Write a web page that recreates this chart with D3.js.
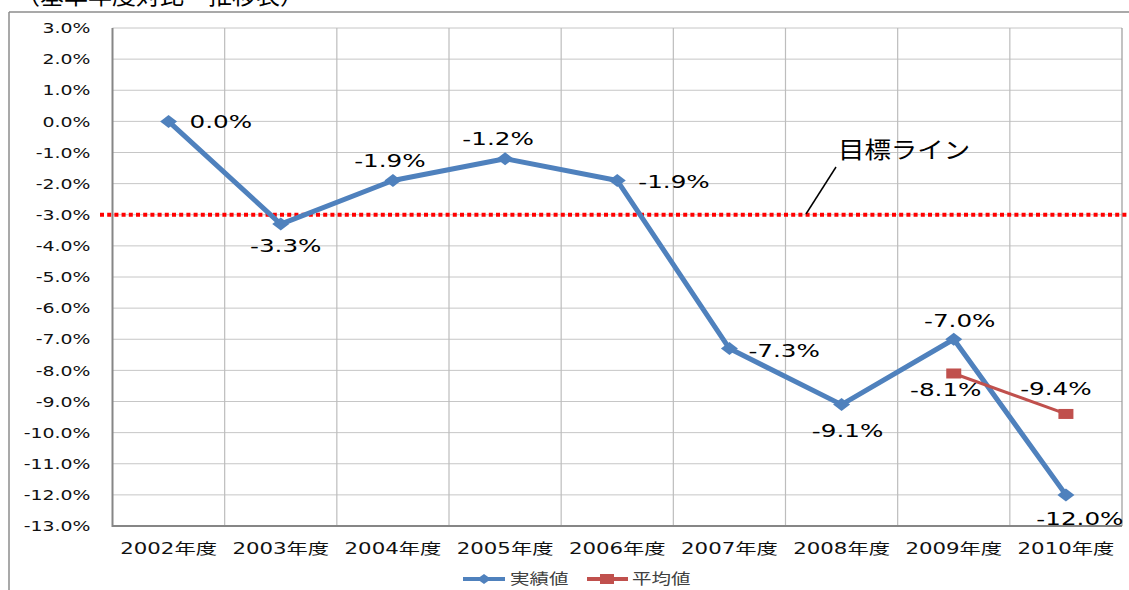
<!DOCTYPE html>
<html>
<head>
<meta charset="utf-8">
<script src="https://cdn.jsdelivr.net/npm/d3@7"></script>
<style>
  body { margin: 0; background: #fff; }
  svg { display: block; }
</style>
</head>
<body>
<svg width="1129" height="590"></svg>
<script>
// data
var years = ['2002年度', '2003年度', '2004年度', '2005年度', '2006年度', '2007年度', '2008年度', '2009年度', '2010年度'];
var actual = [0.0, -3.3, -1.9, -1.2, -1.9, -7.3, -9.1, -7.0, -12.0];
var avgYears = ['2009年度', '2010年度'];
var average = [-8.1, -9.4];
var target = -3.0;
var yTicks = [3, 2, 1, 0, -1, -2, -3, -4, -5, -6, -7, -8, -9, -10, -11, -12, -13];

var font = '"DejaVu Sans", "Noto Sans CJK JP", sans-serif';
var svg = d3.select('svg');

var x = d3.scaleBand().domain(years).range([112.5, 1122]).paddingInner(0).paddingOuter(0);
var y = d3.scaleLinear().domain([-13, 3]).range([526, 28]);
var cx = function (d) { return x(d) + x.bandwidth() / 2; };

// stretched text helper (the original chart text is drawn wide)
function label(g, px, py, txt, size, sx, anchor, color, fam) {
  return g.append('text')
    .attr('transform', 'translate(' + px + ',' + py + ') scale(' + sx + ',1)')
    .attr('text-anchor', anchor)
    .attr('dominant-baseline', 'central')
    .style('font-family', fam || font)
    .style('font-size', size + 'px')
    .attr('fill', color || '#000')
    .text(txt);
}

// outer frame
svg.append('line').attr('x1', 9).attr('x2', 9).attr('y1', 12).attr('y2', 590).attr('stroke', '#8c8c8c').attr('stroke-width', 1.5);
svg.append('line').attr('x1', 9).attr('x2', 1129).attr('y1', 12).attr('y2', 12).attr('stroke', '#8c8c8c').attr('stroke-width', 1.5);

// title, cut off at the top edge like in the original
svg.append('text').attr('x', 16).attr('y', 4)
  .style('font-family', '"Noto Sans CJK JP", sans-serif').style('font-size', '24px')
  .attr('fill', '#000')
  .text('（基準年度対比　推移表）');

// grid
var grid = svg.append('g');
grid.selectAll('line.h').data(yTicks).enter().append('line')
  .attr('x1', 112.5).attr('x2', 1122)
  .attr('y1', function (d) { return y(d); }).attr('y2', function (d) { return y(d); })
  .attr('stroke', '#c6c6c6').attr('stroke-width', 1);
grid.selectAll('line.v').data(years.slice(1).concat(['end'])).enter().append('line')
  .attr('x1', function (d) { return d === 'end' ? 1122 : x(d); })
  .attr('x2', function (d) { return d === 'end' ? 1122 : x(d); })
  .attr('y1', 28).attr('y2', 526)
  .attr('stroke', function (d) { return d === 'end' ? '#9a9a9a' : '#bdbdbd'; }).attr('stroke-width', 1.2);

// axes
var yAxis = d3.axisLeft(y).tickValues(yTicks).tickSize(0).tickPadding(0)
  .tickFormat(function (d) { return d.toFixed(1) + '%'; });
var ya = svg.append('g').attr('transform', 'translate(112.5,0)').call(yAxis);
ya.select('.domain').remove();
ya.selectAll('text').remove();
ya.selectAll('.tick').each(function (d) {
  label(d3.select(this), -22, 0, d.toFixed(1) + '%', 14, 1.35, 'end', '#111');
});
svg.append('line').attr('x1', 112.5).attr('x2', 112.5).attr('y1', 28).attr('y2', 527).attr('stroke', '#868686').attr('stroke-width', 2);
svg.append('line').attr('x1', 112).attr('x2', 1122).attr('y1', 526).attr('y2', 526).attr('stroke', '#868686').attr('stroke-width', 2);

var xAxis = d3.axisBottom(x).tickSize(0).tickPadding(0);
var xa = svg.append('g').attr('transform', 'translate(0,526)').call(xAxis);
xa.select('.domain').remove();
xa.selectAll('text').remove();
xa.selectAll('.tick').each(function (d) {
  label(d3.select(this), 0, 23, d, 15, 1.42, 'middle', '#111');
});

// target line
svg.append('line').attr('x1', 100).attr('x2', 1129)
  .attr('y1', y(target)).attr('y2', y(target))
  .attr('stroke', '#ff0000').attr('stroke-width', 4).attr('stroke-dasharray', '4,3.2');

// annotation
svg.append('line').attr('x1', 836).attr('y1', 167).attr('x2', 806).attr('y2', 214)
  .attr('stroke', '#000').attr('stroke-width', 1.5);
label(svg, 838, 148, '目標ライン', 23, 1.15, 'start', '#000', '"Noto Sans CJK JP", sans-serif');

// series
var blue = '#4f81bd', red = '#c0504d';
var line = d3.line().x(function (d) { return cx(d.k); }).y(function (d) { return y(d.v); });
var actData = years.map(function (k, i) { return { k: k, v: actual[i] }; });
var avgData = avgYears.map(function (k, i) { return { k: k, v: average[i] }; });

svg.append('path').datum(actData).attr('d', line).attr('fill', 'none')
  .attr('stroke', blue).attr('stroke-width', 5).attr('stroke-linejoin', 'round');
svg.selectAll('path.dia').data(actData).enter().append('path')
  .attr('d', 'M-8.5,0L0,-6.5L8.5,0L0,6.5Z')
  .attr('transform', function (d) { return 'translate(' + cx(d.k) + ',' + y(d.v) + ')'; })
  .attr('fill', blue);

svg.append('path').datum(avgData).attr('d', line).attr('fill', 'none')
  .attr('stroke', red).attr('stroke-width', 3);
svg.selectAll('rect.sq').data(avgData).enter().append('rect')
  .attr('x', function (d) { return cx(d.k) - 7.5; }).attr('y', function (d) { return y(d.v) - 5; })
  .attr('width', 15).attr('height', 10).attr('fill', red);

// data labels: placement offsets [dx, dy, anchor] relative to the point
var actPos = [[21, 1, 'start'], [5, 22, 'middle'], [-3, -20, 'middle'], [-7, -20, 'middle'], [21, 1, 'start'],
              [19, 2, 'start'], [6, 26, 'middle'], [6, -18, 'middle'], [14, 24, 'middle']];
var avgPos = [[-8, 16, 'middle'], [-10, -25, 'middle']];
function placeLabel(d, p) {
  label(svg, cx(d.k) + p[0], y(d.v) + p[1], d.v.toFixed(1) + '%', 17, 1.45, p[2], '#000');
}
actData.forEach(function (d, i) { placeLabel(d, actPos[i]); });
avgData.forEach(function (d, i) { placeLabel(d, avgPos[i]); });

// legend
var lg = svg.append('g');
lg.append('line').attr('x1', 463).attr('x2', 505).attr('y1', 579).attr('y2', 579).attr('stroke', blue).attr('stroke-width', 4);
lg.append('path').attr('d', 'M-7,0L0,-5L7,0L0,5Z').attr('transform', 'translate(484,579)').attr('fill', blue);
label(lg, 510, 579, '実績値', 15, 1.3, 'start', '#404040');
lg.append('line').attr('x1', 587).attr('x2', 628).attr('y1', 579).attr('y2', 579).attr('stroke', red).attr('stroke-width', 4);
lg.append('rect').attr('x', 600).attr('y', 574).attr('width', 14).attr('height', 10).attr('fill', red);
label(lg, 632, 579, '平均値', 15, 1.3, 'start', '#404040');
</script>
</body>
</html>
